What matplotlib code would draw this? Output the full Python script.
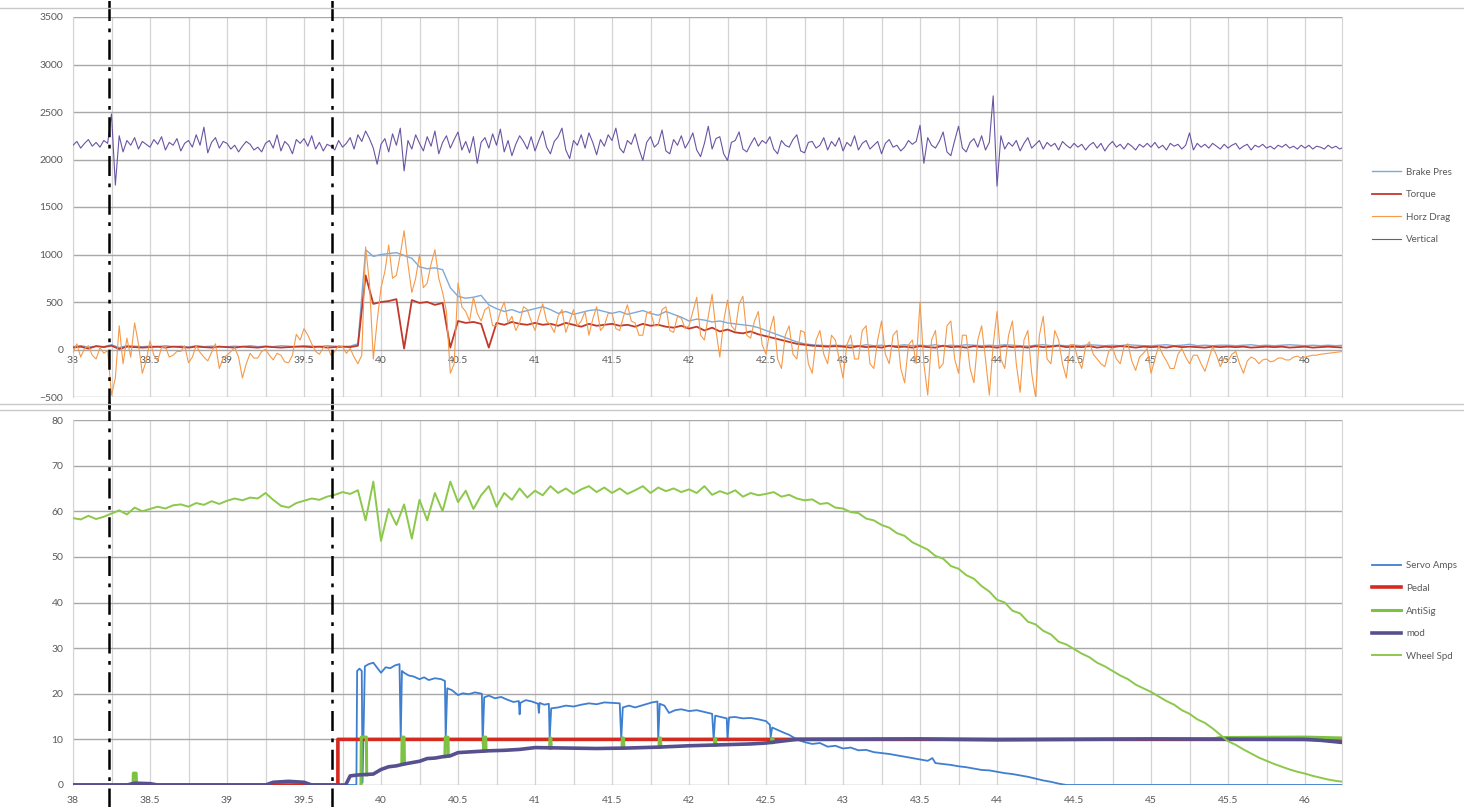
import matplotlib
matplotlib.use('Agg')
import matplotlib.pyplot as plt
from matplotlib.lines import Line2D
from matplotlib.ticker import MultipleLocator, FuncFormatter
import numpy as np

plt.rcParams['font.family'] = ['Lato', 'DejaVu Sans']

# sample grids: 0.05 s (166 samples) and 0.025 s (331 samples), 38.00 .. 46.25
t = np.round(38.0 + 0.05 * np.arange(166), 3)
t_fine = np.round(38.0 + 0.025 * np.arange(331), 3)

# ---- upper chart: loads (fine grid) ----
vertical = [
    2150, 2190, 2120, 2170, 2210, 2140, 2180, 2130, 2200, 2170, 2480, 1730, 2250, 2080, 2200, 2150, 2230, 2110, 2190, 2160,
    2130, 2210, 2160, 2240, 2100, 2180, 2150, 2220, 2090, 2170, 2200, 2130, 2260, 2150, 2340, 2070, 2180, 2230, 2120, 2190,
    2170, 2110, 2150, 2080, 2140, 2190, 2160, 2100, 2130, 2080, 2170, 2200, 2120, 2260, 2090, 2190, 2150, 2060, 2210, 2170,
    2220, 2140, 2250, 2110, 2180, 2090, 2160, 2140, 2100, 2200, 2130, 2170, 2230, 2110, 2260, 2190, 2300, 2220, 2120, 1950,
    2160, 2220, 2080, 2270, 2150, 2330, 1880, 2200, 2110, 2260, 2170, 2090, 2240, 2140, 2300, 2060, 2180, 2250, 2120, 2210,
    2290, 2100, 2190, 2070, 2240, 1960, 2180, 2230, 2120, 2270, 2150, 2320, 2080, 2200, 2040, 2160, 2250, 2190, 2110, 2240,
    2090, 2200, 2300, 2130, 2060, 2190, 2240, 2330, 2100, 2010, 2200, 2150, 2260, 2120, 2280, 2180, 2050, 2210, 2140, 2260,
    2200, 2330, 2120, 2070, 2200, 2160, 2270, 2110, 1990, 2180, 2240, 2130, 2170, 2310, 2090, 2060, 2210, 2150, 2250, 2120,
    2190, 2280, 2100, 2030, 2170, 2350, 2110, 2220, 2240, 2060, 1990, 2180, 2200, 2290, 2110, 2080, 2160, 2230, 2140, 2200,
    2170, 2240, 2110, 2060, 2200, 2150, 2130, 2210, 2260, 2090, 2070, 2180, 2190, 2120, 2150, 2230, 2100, 2190, 2140, 2230,
    2090, 2180, 2140, 2250, 2100, 2170, 2200, 2110, 2150, 2190, 2060, 2170, 2210, 2130, 2150, 2090, 2130, 2200, 2160, 2190,
    2360, 1960, 2230, 2150, 2120, 2190, 2290, 2080, 2040, 2200, 2350, 2120, 2080, 2180, 2220, 2130, 2250, 2100, 2180, 2670,
    1720, 2250, 2110, 2180, 2140, 2200, 2090, 2170, 2230, 2120, 2160, 2200, 2110, 2180, 2140, 2170, 2100, 2190, 2150, 2120,
    2170, 2130, 2160, 2100, 2150, 2180, 2120, 2170, 2090, 2150, 2190, 2130, 2160, 2110, 2170, 2140, 2100, 2160, 2130, 2170,
    2130, 2180, 2120, 2150, 2100, 2170, 2140, 2160, 2110, 2150, 2280, 2100, 2170, 2130, 2160, 2120, 2170, 2140, 2110, 2160,
    2120, 2150, 2170, 2110, 2140, 2160, 2100, 2150, 2130, 2160, 2120, 2140, 2110, 2150, 2130, 2160, 2120, 2140, 2110, 2150,
    2120, 2150, 2110, 2140, 2130, 2110, 2150, 2120, 2140, 2110, 2130]

horz_drag = [
    -30, 60, -80, 10, 40, -60, -100, 20, -40, -10, -480, -300, 250, -150, 120, -80, 280, 60, -250, -120,
    90, -60, -120, 20, 30, -80, -60, -20, -20, 40, -140, -80, 40, -30, -80, -120, -30, 60, -200, -90,
    -60, -20, 20, -80, -300, -150, -40, -90, -90, -20, 0, -60, -110, -40, -60, -130, -140, -60, 160, 100,
    220, 150, 60, -20, -50, 20, 40, -60, -20, 40, 30, -40, 10, -80, -150, -60, 1080, 700, -100, 300,
    650, 820, 1100, 750, 780, 1000, 1250, 900, 600, 750, 1000, 650, 700, 900, 1050, 750, 600, 400, -250, -150,
    700, 450, 400, 300, 550, 380, 300, 420, 450, 250, 250, 400, 500, 280, 350, 200, 280, 450, 420, 300,
    200, 350, 480, 300, 260, 180, 350, 420, 180, 300, 420, 250, 300, 400, 150, 320, 450, 200, 250, 380,
    380, 220, 200, 350, 470, 300, 280, 150, 150, 380, 400, 250, 250, 420, 450, 200, 180, 350, 330, 220,
    250, 400, 550, 150, 100, 350, 580, 200, -80, 300, 520, 250, 200, 480, 560, 150, 120, 300, 400, 50,
    -50, 200, 350, -100, -200, 150, 250, -50, -100, 200, 180, -150, -250, 100, 200, -50, -150, 150, 100, -100,
    -300, 50, 150, -100, -100, 200, 250, -150, -200, 100, 300, -50, -150, 150, 200, -200, -350, 50, 100, -150,
    500, -150, -480, 100, 200, -200, -150, 250, 300, -100, -250, 150, 150, -200, -350, 100, 250, -100, -480, 50,
    400, -100, -200, 150, 300, -150, -450, 100, 200, -250, -500, 150, 350, -100, -150, 200, 100, -150, -300, 50,
    50, -100, -200, 30, 80, -50, -100, -150, -180, -20, 20, -100, -150, 30, 60, -120, -220, -80, -40, 10,
    -250, -100, 40, -50, -120, -200, -200, -50, 10, -80, -150, -60, -60, -150, -230, -100, 30, -60, -180, -90,
    -120, -50, -20, -150, -250, -120, -80, -100, -150, -110, -100, -130, -120, -90, -90, -110, -110, -80, -70, -90,
    -80, -70, -60, -60, -50, -45, -40, -35, -30, -25, -20]

# ---- upper chart: loads (0.05 s grid) ----
brake_pres = [
    30, 40, 25, 35, 30, 50, 20, 40, 35, 30,
    35, 30, 40, 30, 35, 25, 40, 30, 35, 30,
    30, 35, 30, 40, 30, 35, 30, 40, 35, 30,
    40, 35, 30, 40, 35, 30, 35, 60, 1050, 980,
    1000, 1010, 1020, 990, 960, 870, 850, 860, 840, 650,
    560, 540, 550, 570, 470, 430, 400, 420, 390, 410,
    430, 450, 420, 380, 400, 370, 390, 410, 420, 400,
    380, 400, 370, 390, 410, 380, 360, 400, 370, 340,
    300, 320, 310, 290, 300, 280, 270, 260, 250, 230,
    200, 170, 140, 110, 80, 60, 50, 45, 40, 45,
    40, 45, 35, 50, 40, 45, 35, 40, 50, 40,
    45, 40, 50, 35, 45, 40, 50, 45, 40, 45,
    40, 50, 45, 40, 35, 45, 50, 40, 45, 40,
    45, 40, 50, 45, 40, 45, 40, 50, 45, 40,
    40, 45, 50, 40, 45, 55, 40, 45, 40, 45,
    45, 40, 45, 50, 40, 45, 40, 45, 50, 45,
    40, 45, 40, 45, 40, 45]

torque = [
    20, 30, 10, 35, 25, 40, 5, 30, 25, 20,
    25, 30, 20, 30, 25, 20, 30, 25, 20, 30,
    25, 20, 30, 25, 20, 30, 25, 20, 25, 30,
    30, 25, 30, 20, 25, 30, 25, 40, 780, 480,
    500, 510, 530, 10, 520, 490, 500, 470, 490, 20,
    300, 280, 290, 270, 20, 280, 260, 290, 270, 260,
    280, 260, 270, 250, 280, 260, 240, 270, 250, 260,
    270, 250, 260, 240, 270, 250, 260, 240, 230, 250,
    220, 240, 200, 230, 190, 210, 180, 170, 190, 160,
    140, 120, 100, 80, 60, 50, 40, 35, 30, 35,
    30, 20, 35, 25, 30, 20, 40, 25, 30, 20,
    35, 25, 20, 40, 25, 30, 20, 35, 25, 30,
    20, 35, 25, 30, 20, 35, 25, 30, 40, 25,
    30, 25, 35, 20, 30, 25, 35, 30, 20, 30,
    25, 30, 20, 35, 25, 30, 25, 20, 30, 25,
    30, 25, 30, 20, 25, 30, 25, 30, 20, 25,
    30, 20, 25, 30, 25, 20]

# ---- lower chart: controls ----
wheel_spd = [
    58.5, 58.2, 59.0, 58.3, 58.8, 59.5, 60.2, 59.3, 60.8, 60.0,
    60.5, 61.0, 60.6, 61.3, 61.5, 61.0, 61.8, 61.4, 62.2, 61.6,
    62.3, 62.8, 62.4, 63.0, 62.8, 64.0, 62.5, 61.2, 60.8, 61.8,
    62.3, 62.8, 62.5, 63.2, 63.6, 64.2, 63.8, 64.6, 58.0, 66.5,
    53.5, 60.5, 57.0, 61.5, 54.0, 62.5, 58.0, 64.0, 60.0, 66.5,
    62.0, 64.5, 60.5, 63.5, 65.5, 61.0, 64.0, 62.5, 65.0, 63.0,
    64.5, 63.5, 65.5, 64.0, 65.0, 63.8, 64.8, 65.5, 64.2, 65.2,
    64.0, 65.0, 63.8, 64.6, 65.5, 64.0, 65.2, 64.4, 65.0, 64.2,
    64.8, 64.0, 65.5, 63.6, 64.4, 63.8, 64.6, 63.2, 64.0, 63.5,
    63.8, 64.2, 63.2, 63.6, 62.8, 62.4, 62.6, 61.6, 61.8, 60.8,
    60.6, 59.8, 59.6, 58.4, 58.0, 57.0, 56.4, 55.2, 54.6, 53.2,
    52.4, 51.6, 50.2, 49.6, 48.0, 47.4, 46.0, 45.2, 43.6, 42.4,
    40.6, 40.0, 38.2, 37.6, 35.8, 35.2, 33.8, 33.0, 31.4, 30.8,
    29.8, 28.8, 28.0, 26.8, 26.0, 25.0, 24.0, 23.2, 22.0, 21.2,
    20.4, 19.4, 18.4, 17.6, 16.4, 15.6, 14.4, 13.6, 12.4, 11.0,
    9.6, 8.8, 7.8, 6.9, 6.0, 5.3, 4.6, 4.0, 3.4, 2.9,
    2.5, 2.0, 1.6, 1.2, 0.9, 0.7]

servo_t = [38.0, 39.84, 39.845, 39.86, 39.875, 39.88, 39.895, 39.92, 39.95, 39.98,
           40.0, 40.03, 40.06, 40.09, 40.12, 40.128, 40.136, 40.15, 40.18, 40.21,
           40.25, 40.28, 40.31, 40.35, 40.39, 40.415, 40.42, 40.43, 40.46, 40.5,
           40.53, 40.57, 40.61, 40.655, 40.66, 40.67, 40.7, 40.74, 40.78, 40.82,
           40.86, 40.895, 40.9, 40.905, 40.94, 40.98, 41.02, 41.025, 41.03, 41.06,
           41.09, 41.095, 41.105, 41.15, 41.2, 41.25, 41.3, 41.35, 41.4, 41.45,
           41.5, 41.55, 41.56, 41.57, 41.61, 41.65, 41.7, 41.76, 41.795, 41.8,
           41.81, 41.84, 41.87, 41.91, 41.95, 42.0, 42.05, 42.1, 42.15, 42.16,
           42.17, 42.22, 42.245, 42.25, 42.26, 42.3, 42.35, 42.4, 42.45, 42.5,
           42.525, 42.53, 42.54, 42.58, 42.62, 42.65, 42.7, 42.75, 42.8, 42.85,
           42.9, 42.95, 43.0, 43.05, 43.1, 43.15, 43.2, 43.25, 43.3, 43.35,
           43.4, 43.45, 43.5, 43.55, 43.58, 43.6, 43.65, 43.7, 43.75, 43.8,
           43.85, 43.9, 43.95, 44.0, 44.05, 44.1, 44.15, 44.2, 44.25, 44.3,
           44.35, 44.4, 44.45, 46.25]
servo_amps = [0, 0, 25.0, 25.5, 25.0, 0.5, 26.0, 26.5, 26.8, 25.5,
              24.6, 25.8, 25.6, 26.2, 26.5, 10.0, 25.0, 24.6, 24.0, 23.8,
              23.2, 23.6, 23.0, 23.4, 23.2, 22.8, 10.0, 21.2, 20.8, 19.7,
              20.1, 19.9, 20.3, 20.0, 9.0, 19.2, 19.6, 19.0, 19.3, 18.7,
              18.2, 18.4, 15.5, 18.0, 18.6, 18.3, 17.8, 15.8, 18.0, 17.6,
              17.8, 10.0, 16.8, 17.0, 17.4, 17.2, 17.6, 17.9, 17.7, 18.1,
              18.0, 17.9, 10.0, 17.0, 17.4, 17.0, 17.5, 18.1, 18.3, 10.0,
              17.8, 17.4, 15.8, 16.4, 16.6, 16.2, 16.4, 16.0, 15.6, 10.0,
              15.2, 14.8, 14.6, 10.0, 14.8, 14.9, 14.6, 14.7, 14.4, 14.0,
              13.2, 10.5, 12.6, 12.0, 11.4, 11.0, 10.0, 9.4, 9.0, 9.2,
              8.4, 8.6, 8.0, 8.2, 7.6, 7.7, 7.2, 7.0, 6.8, 6.5,
              6.2, 5.9, 5.6, 5.3, 5.9, 4.8, 4.6, 4.4, 4.1, 3.9,
              3.6, 3.3, 3.2, 2.9, 2.6, 2.4, 2.1, 1.8, 1.4, 1.0,
              0.7, 0.3, 0, 0]

pedal_t = [38.0, 39.72, 39.72, 46.05, 46.25]
pedal = [0, 0, 10, 10, 9.6]

# AntiSig sits under mod except for short pulses up to the pedal level
anti_t = [38.39, 38.392, 38.41, 38.412, 38.42,
          39.87, 39.872, 39.905, 39.907, 39.91,
          40.135, 40.137, 40.15, 40.152, 40.16,
          40.415, 40.417, 40.435, 40.437, 40.44,
          40.665, 40.667, 40.68, 40.682, 40.69,
          41.095, 41.097, 41.103, 41.105, 41.11,
          41.565, 41.567, 41.575, 41.577, 41.58,
          41.805, 41.807, 41.815, 41.817, 41.82,
          42.165, 42.167, 42.173, 42.175, 42.18,
          42.535, 42.537, 42.545, 42.547, 42.55,
          45.4, 45.45, 46.0, 46.25]
anti_sig = [0.4, 2.6, 2.6, 0.4, np.nan,
            0, 10.5, 10.5, 2.2, np.nan,
            4.5, 10.5, 10.5, 4.6, np.nan,
            6.2, 10.5, 10.5, 6.3, np.nan,
            7.4, 10.5, 10.5, 7.5, np.nan,
            8.1, 10.3, 10.3, 8.1, np.nan,
            8.1, 10.3, 10.3, 8.1, np.nan,
            8.3, 10.3, 10.3, 8.3, np.nan,
            8.7, 10.2, 10.2, 8.7, np.nan,
            9.3, 10.2, 10.2, 9.3, np.nan,
            10.1, 10.4, 10.5, 10.3]

mod_t = [38.0, 38.35, 38.4, 38.5, 38.55, 39.25, 39.3, 39.4, 39.5, 39.55,
         39.77, 39.8, 39.85, 39.95, 40.0, 40.05, 40.1, 40.15, 40.2, 40.25,
         40.3, 40.35, 40.4, 40.45, 40.5, 40.6, 40.7, 40.8, 40.9, 41.0,
         41.2, 41.4, 41.6, 41.8, 42.0, 42.2, 42.4, 42.5, 42.6, 42.7,
         43.5, 44.0, 45.0, 46.0, 46.1, 46.25]
mod = [0, 0, 0.4, 0.3, 0, 0, 0.6, 0.8, 0.6, 0,
       0, 2.0, 2.2, 2.4, 3.4, 4.0, 4.2, 4.6, 4.9, 5.2,
       5.8, 5.9, 6.2, 6.4, 7.1, 7.3, 7.5, 7.6, 7.8, 8.2,
       8.1, 8.0, 8.1, 8.3, 8.6, 8.8, 9.0, 9.2, 9.6, 10.0,
       10.1, 9.9, 10.1, 10.0, 9.8, 9.3]

marker_times = [38.234, 39.68]

W, H = 1464, 807
txt = '#595959'

fig = plt.figure(figsize=(W / 100, H / 100), dpi=100)
ax1 = fig.add_axes([73 / W, 1 - 397 / H, (1342 - 73) / W, 380 / H])
ax2 = fig.add_axes([73 / W, 1 - 785 / H, (1342 - 73) / W, 365 / H])

ax1.plot(t, brake_pres, color='#7ea9d9', lw=1.0, label='Brake Pres', zorder=3)
ax1.plot(t, torque, color='#c0392b', lw=1.3, label='Torque', zorder=4)
ax1.plot(t_fine, horz_drag, color='#f59a4a', lw=0.8, label='Horz Drag', zorder=5)
ax1.plot(t_fine, vertical, color='#6a55a3', lw=0.8, label='Vertical', zorder=6)

ax2.plot(servo_t, servo_amps, color='#3f7fcf', lw=1.3, label='Servo Amps', zorder=3)
ax2.plot(pedal_t, pedal, color='#d42a20', lw=2.6, label='Pedal', zorder=4)
ax2.plot(anti_t, anti_sig, color='#7dc242', lw=2.2, label='AntiSig', zorder=5)
ax2.plot(mod_t, mod, color='#56508f', lw=2.6, label='mod', zorder=6)
ax2.plot(t, wheel_spd, color='#8cc84b', lw=1.4, label='Wheel Spd', zorder=7)

for ax, lo, hi, step in [(ax1, -500, 3500, 500), (ax2, 0, 80, 10)]:
    ax.set_xlim(38, 46.24)
    ax.set_ylim(lo, hi)
    ax.xaxis.set_major_locator(MultipleLocator(0.5))
    ax.xaxis.set_minor_locator(MultipleLocator(0.25))
    ax.yaxis.set_major_locator(MultipleLocator(step))
    ax.xaxis.set_major_formatter(FuncFormatter(lambda v, p: '%g' % v))
    ax.grid(True, axis='x', which='both', color='#d4d4d4', lw=0.9)
    ax.grid(True, axis='y', which='major', color='#a8a8a8', lw=1.0)
    ax.set_axisbelow(True)
    ax.tick_params(which='both', length=0, labelsize=7.5, labelcolor=txt)
    ax.tick_params(axis='y', pad=7)
    for s in ['top', 'bottom']:
        ax.spines[s].set_visible(False)
    for s in ['left', 'right']:
        ax.spines[s].set_color('#d4d4d4')

# upper chart: category labels sit on the zero line
ax1.spines['bottom'].set_position(('data', 0))
ax1.tick_params(axis='x', pad=5)
ax2.tick_params(axis='x', pad=8)

for x in marker_times:
    ax1.axvline(x, ymin=-0.03, ymax=1.05, color='black', lw=1.8,
                ls=(0, (8, 3, 1.5, 3)), clip_on=False, zorder=10)
    ax2.axvline(x, ymin=-0.07, ymax=1.05, color='black', lw=1.8,
                ls=(0, (8, 3, 1.5, 3)), clip_on=False, zorder=10)

# chart area borders
for y in [8, 404, 410]:
    fig.add_artist(Line2D([0, 1], [1 - y / H, 1 - y / H], transform=fig.transFigure,
                          color='#c8c8c8', lw=1.0))

leg_kw = dict(frameon=False, fontsize=7, labelcolor=txt, handlelength=3.0,
              handletextpad=0.5, labelspacing=1.4, borderpad=0, borderaxespad=0,
              loc='center left')
h1, l1 = ax1.get_legend_handles_labels()
fig.legend(h1, l1, bbox_to_anchor=(1372 / W, 1 - 206 / H), **leg_kw)
h2, l2 = ax2.get_legend_handles_labels()
fig.legend(h2, l2, bbox_to_anchor=(1372 / W, 1 - 611 / H), **leg_kw)

plt.savefig('out.png', dpi=100)
